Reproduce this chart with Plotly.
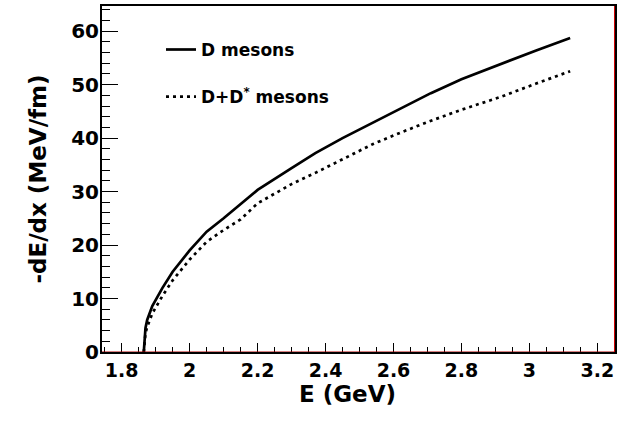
import plotly.graph_objects as go

# Energy grid (GeV) and stopping power (MeV/fm)
E_d = [1.865, 1.87, 1.875, 1.89, 1.92, 1.95, 2.0, 2.05, 2.1, 2.15, 2.2, 2.3, 2.37,
       2.45, 2.54, 2.62, 2.71, 2.8, 2.92, 3.02, 3.12]
dEdx_d = [0.0, 4.5, 6.0, 8.6, 12.0, 15.0, 19.0, 22.5, 25.0, 27.6, 30.3, 34.4, 37.2,
          40.0, 42.9, 45.5, 48.4, 51.0, 54.0, 56.4, 58.7]

E_dds = [1.865, 1.87, 1.875, 1.89, 1.92, 1.95, 2.0, 2.05, 2.1, 2.15, 2.2, 2.3, 2.37,
         2.45, 2.54, 2.62, 2.7, 2.8, 2.92, 3.02, 3.12]
dEdx_dds = [0.0, 3.5, 4.7, 7.2, 10.5, 13.4, 17.3, 20.6, 22.8, 24.8, 27.8, 31.4, 33.5,
            36.0, 38.9, 41.0, 43.0, 45.3, 47.8, 50.2, 52.5]

name_d = "D mesons"
name_dds = "D+D<sup>*</sup> mesons"
x_title = "E (GeV)"
y_title = "-dE/dx (MeV/fm)"

x_tickvals = [1.8, 2.0, 2.2, 2.4, 2.6, 2.8, 3.0, 3.2]
x_ticktext = ["1.8", "2", "2.2", "2.4", "2.6", "2.8", "3", "3.2"]
y_tickvals = [0, 10, 20, 30, 40, 50, 60]
y_ticktext = ["0", "10", "20", "30", "40", "50", "60"]

FONT = "DejaVu Sans"

fig = go.Figure()
fig.add_trace(go.Scatter(x=E_d, y=dEdx_d, mode="lines", name=name_d,
                         legendgroup="a",
                         line=dict(color="black", width=2.7)))
fig.add_trace(go.Scatter(x=E_dds, y=dEdx_dds, mode="lines", name=name_dds,
                         legendgroup="b",
                         line=dict(color="black", width=2.7, dash="3px,4px")))

fig.update_layout(
    width=642, height=421,
    margin=dict(l=102, r=27, t=4, b=69),
    paper_bgcolor="white", plot_bgcolor="white",
    font=dict(family=FONT, color="black", size=17, weight="bold"),
    legend=dict(x=0.115, y=0.925, xanchor="left", yanchor="top",
                bgcolor="rgba(0,0,0,0)", tracegroupgap=22,
                font=dict(family=FONT, size=17, weight="bold")),
    xaxis=dict(range=[1.742, 3.252], showgrid=False, zeroline=False,
               showline=True, linecolor="black", linewidth=2, mirror=True,
               ticks="inside", ticklen=9, tickwidth=1, tickcolor="black",
               tickvals=x_tickvals, ticktext=x_ticktext,
               ticklabelstandoff=0,
               tickfont=dict(family=FONT, size=19, weight="bold"),
               minor=dict(ticks="inside", ticklen=5, dtick=0.05, tick0=1.8,
                          tickcolor="black", tickwidth=1)),
    yaxis=dict(range=[0, 64.7], showgrid=False, zeroline=False,
               showline=True, linecolor="black", linewidth=2, mirror=True,
               ticks="inside", ticklen=16, tickwidth=1, tickcolor="black",
               tickvals=y_tickvals, ticktext=y_ticktext,
               ticklabelstandoff=-3,
               tickfont=dict(family=FONT, size=20, weight="bold"),
               minor=dict(ticks="inside", ticklen=8, dtick=2, tick0=0,
                          tickcolor="black", tickwidth=1),
               title=dict(text=y_title, standoff=18,
                          font=dict(family=FONT, size=23, weight="bold"))),
    annotations=[
        dict(text=x_title, xref="paper", yref="paper", x=0.4795, y=-0.12,
             xanchor="center", yanchor="middle", showarrow=False,
             font=dict(family=FONT, size=23, weight="bold")),
    ],
    shapes=[
        dict(type="line", xref="paper", yref="y", x0=0, x1=1, y0=0, y1=0,
             line=dict(color="#b00000", width=1)),
        dict(type="line", xref="x", yref="paper", x0=3.2505, x1=3.2505, y0=0, y1=1,
             line=dict(color="#d00000", width=1)),
    ],
)

fig.write_html("out.html",
               config={"displayModeBar": False},
               post_script="document.body.style.margin='0';document.body.style.overflow='hidden';")
